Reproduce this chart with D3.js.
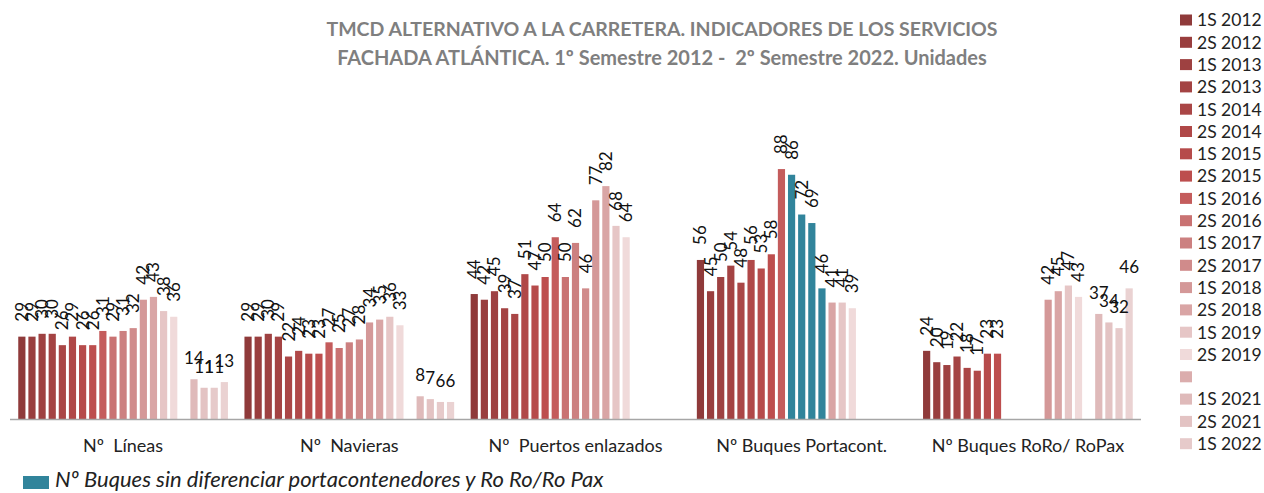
<!DOCTYPE html>
<html>
<head>
<meta charset="utf-8">
<script src="https://cdn.jsdelivr.net/npm/d3@7"></script>
<style>
  body { margin: 0; background: #fff; }
  svg { font-family: Lato, "Open Sans", sans-serif; }
</style>
</head>
<body>
<svg id="chart" width="1264" height="493"></svg>
<script>
// categorias del eje
var categories = ["Nº  Líneas", "Nº  Navieras", "Nº  Puertos enlazados", "Nº Buques Portacont.", "Nº Buques RoRo/ RoPax"];

// semestres (el hueco de 2020 va sin nombre en la leyenda)
var periods = ["1S 2012", "2S 2012", "1S 2013", "2S 2013", "1S 2014", "2S 2014", "1S 2015", "2S 2015",
    "1S 2016", "2S 2016", "1S 2017", "2S 2017", "1S 2018", "2S 2018", "1S 2019", "2S 2019",
    "", "1S 2021", "2S 2021", "1S 2022", "2S 2022"];

var lineas    = [29, 29, 30, 30, 26, 29, 26, 26, 31, 29, 31, 32, 42, 43, 38, 36, null, 14, 11, 11, 13];
var navieras  = [29, 29, 30, 29, 22, 24, 23, 23, 27, 25, 27, 28, 34, 35, 36, 33, null, 8, 7, 6, 6];
var puertos   = [44, 42, 45, 39, 37, 51, 47, 50, 64, 50, 62, 46, 77, 82, 68, 64, null, null, null, null, null];
var portacont = [56, 45, 50, 54, 48, 56, 53, 58, 88, null, null, null, null, 41, 41, 39, null, null, null, null, null];
var roro      = [24, 20, 19, 22, 18, 17, 23, 23, null, null, null, null, 42, 45, 47, 43, null, 37, 34, 32, 46];

// Nº Buques sin diferenciar portacontenedores y Ro Ro/Ro Pax (2S 2016 - 1S 2018)
var sinDiferenciar = [null, null, null, null, null, null, null, null, null, 86, 72, 69, 46, null, null, null, null, null, null, null, null];

var seriesByCat = [lineas, navieras, puertos, portacont, roro];

var colors = ["#8f3a3a", "#993e3e", "#9e4141", "#a44343", "#aa4646", "#b04848", "#b64b4b", "#bd4e4e",
    "#c45c5c", "#c97272", "#cc8080", "#d08b8b", "#d49898", "#d9a5a5", "#e6c6c6", "#f0dada",
    "#dbadad", "#dfbaba", "#e3c3c3", "#e6caca", "#ead2d2"];
var teal = "#31849b";

var svg = d3.select("#chart");

var baseline = 419;

var x = d3.scaleBand()
    .domain(categories)
    .range([10, 1141])
    .padding(0);

var xs = d3.scaleBand()
    .domain(d3.range(periods.length))
    .range([0, x.bandwidth()])
    .paddingInner(0.29)
    .paddingOuter(0.815);

var y = d3.scaleLinear()
    .domain([0, 100])
    .range([baseline, baseline - 284]);

// titulo
var title = svg.append("text")
    .attr("x", 662)
    .attr("text-anchor", "middle")
    .style("font-weight", "bold")
    .style("font-size", "19.5px")
    .style("fill", "#7f7f7f")
    .style("white-space", "pre");
title.append("tspan").attr("x", 662).attr("y", 36)
    .text("TMCD ALTERNATIVO A LA CARRETERA. INDICADORES DE LOS SERVICIOS");
title.append("tspan").attr("x", 662).attr("y", 65)
    .style("font-size", "20px")
    .text("FACHADA ATLÁNTICA. 1º Semestre 2012 -  2º Semestre 2022. Unidades");

// barras
var bars = [];
categories.forEach(function(cat, ci) {
    seriesByCat[ci].forEach(function(v, si) {
        if (v != null) bars.push({cat: cat, si: si, value: v, color: colors[si]});
    });
    if (ci == 3) {
        sinDiferenciar.forEach(function(v, si) {
            if (v != null) bars.push({cat: cat, si: si, value: v, color: teal});
        });
    }
});

svg.append("g").selectAll("rect")
    .data(bars)
    .enter().append("rect")
    .attr("x", d => x(d.cat) + xs(d.si))
    .attr("y", d => y(d.value))
    .attr("width", xs.bandwidth())
    .attr("height", d => baseline - y(d.value))
    .style("fill", d => d.color);

// etiquetas de valor
svg.append("g").selectAll("text")
    .data(bars)
    .enter().append("text")
    .style("font-size", "17px")
    .style("fill", "#111")
    .attr("transform", function(d) {
        var cx = x(d.cat) + xs(d.si) + xs.bandwidth() / 2;
        var ty = y(d.value) - 15;
        if (d.si > 16) return "translate(" + cx + "," + ty + ")";
        return "translate(" + cx + "," + ty + ") rotate(-90)";
    })
    .attr("text-anchor", d => d.si > 16 ? "middle" : "start")
    .attr("dy", d => d.si > 16 ? "0" : "0.35em")
    .text(d => d.value);

// eje
svg.append("line")
    .attr("x1", x.range()[0])
    .attr("x2", x.range()[1])
    .attr("y1", baseline + 0.5)
    .attr("y2", baseline + 0.5)
    .style("stroke", "#a6a6a6")
    .style("stroke-width", 1.6);

svg.append("g").selectAll("text")
    .data(categories)
    .enter().append("text")
    .attr("x", d => x(d) + x.bandwidth() / 2)
    .attr("y", 452)
    .attr("text-anchor", "middle")
    .style("font-size", "18px")
    .style("fill", "#222")
    .style("white-space", "pre")
    .text(d => d);

// leyenda derecha (la ultima entrada queda cortada)
var legend = svg.append("g").selectAll("g")
    .data(periods.slice(0, 20))
    .enter().append("g")
    .attr("transform", (d, i) => "translate(1180," + (20 + i * 22.3) + ")");

legend.append("rect")
    .attr("y", -5.5)
    .attr("width", 12)
    .attr("height", 11)
    .style("fill", (d, i) => colors[i]);

legend.append("text")
    .attr("x", 17)
    .attr("dy", "0.36em")
    .style("font-size", "17.5px")
    .style("fill", "#222")
    .text(d => d);

// leyenda inferior
svg.append("rect")
    .attr("x", 23)
    .attr("y", 476)
    .attr("width", 26)
    .attr("height", 13)
    .style("fill", teal);

svg.append("text")
    .attr("x", 55)
    .attr("y", 487)
    .style("font-size", "22px")
    .style("font-style", "italic")
    .style("fill", "#222")
    .text("Nº Buques sin diferenciar portacontenedores y Ro Ro/Ro Pax");
</script>
</body>
</html>
